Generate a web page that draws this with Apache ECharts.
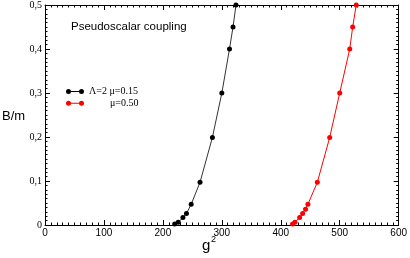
<!DOCTYPE html>
<html>
<head>
<meta charset="utf-8">
<script src="https://cdn.jsdelivr.net/npm/echarts@6/dist/echarts.min.js"></script>
<style>
  html, body { margin: 0; padding: 0; background: #fff; }
  #chart { width: 410px; height: 258px; }
</style>
</head>
<body>
<div id="chart"></div>
<script>
// g^2 and B/m
var blackName = 'Λ=2 μ=0.15';
var redName = 'μ=0.50';
var blackG2 = [220, 226, 234, 240, 248, 263, 284, 300, 313, 319, 324];
var blackB = [0.002, 0.006, 0.017, 0.026, 0.047, 0.097, 0.199, 0.3, 0.4, 0.45, 0.5];
var redG2 = [420, 424, 432, 437, 442, 446, 462, 483, 500, 517, 522, 528];
var redB = [0.002, 0.006, 0.017, 0.026, 0.036, 0.047, 0.097, 0.199, 0.3, 0.4, 0.45, 0.5];
var xTicks = [0, 600, 100];
var yTicks = [0, 0.5, 0.1];

function pairs(xs, ys) {
  return xs.map(function (x, i) { return [x, ys[i]]; });
}

function initChart(dom) {
  var myChart = echarts.init(document.getElementById(dom));
  var tick = { show: true, inside: true, length: 5, lineStyle: { color: '#000' } };
  var minor = { show: true, splitNumber: 10, length: 2.5, lineStyle: { color: '#000' } };
  var line = { show: true, onZero: false, lineStyle: { color: '#000', width: 1 } };
  var icon = 'path://M2.5,0A2.5,2.5 0 1 1 2.5,5A2.5,2.5 0 1 1 2.5,0Z' +
    'M15.5,0A2.5,2.5 0 1 1 15.5,5A2.5,2.5 0 1 1 15.5,0Z' +
    'M2.5,2L15.5,2L15.5,3L2.5,3Z';
  var option = {
    animation: false,
    grid: { left: 45, right: 10, top: 5, bottom: 33 },
    title: {
      text: 'Pseudoscalar coupling',
      left: 66, top: 16,
      textStyle: { fontFamily: 'Liberation Sans', fontSize: 11.5, fontWeight: 'normal', color: '#000' }
    },
    legend: {
      orient: 'vertical',
      left: 66, top: 86.5, padding: 0,
      itemWidth: 18, itemHeight: 5, itemGap: 1.8,
      data: [{ name: blackName, icon: icon }, { name: redName, icon: icon }],
      formatter: function (name) {
        return name === redName ? '{pad|}' + name : name;
      },
      textStyle: {
        fontFamily: 'Liberation Serif', fontSize: 10, color: '#000',
        rich: { pad: { width: 21 } }
      }
    },
    xAxis: [
      {
        type: 'value', min: xTicks[0], max: xTicks[1], interval: xTicks[2],
        axisLine: line, axisTick: tick, minorTick: minor, splitLine: { show: false },
        axisLabel: { color: '#000', fontFamily: 'Liberation Sans', fontSize: 10, margin: 3 }
      },
      {
        type: 'value', position: 'top', min: xTicks[0], max: xTicks[1], interval: xTicks[2],
        axisLine: line, axisTick: tick, minorTick: minor, splitLine: { show: false },
        axisLabel: { show: false }
      }
    ],
    yAxis: [
      {
        type: 'value', min: yTicks[0], max: yTicks[1], interval: yTicks[2],
        axisLine: line, axisTick: tick, minorTick: minor, splitLine: { show: false },
        axisLabel: {
          color: '#000', fontFamily: 'Liberation Serif', fontSize: 10, margin: 3,
          formatter: function (v) { return v === 0 ? '0' : v.toFixed(1).replace('.', ','); }
        }
      },
      {
        type: 'value', position: 'right', min: yTicks[0], max: yTicks[1], interval: yTicks[2],
        axisLine: line, axisTick: tick, minorTick: minor, splitLine: { show: false },
        axisLabel: { show: false }
      }
    ],
    graphic: [
      {
        type: 'text', left: 2, top: 110,
        style: { text: 'B/m', fontFamily: 'Liberation Sans', fontSize: 13, fill: '#000' }
      },
      {
        type: 'text', left: 202, top: 238,
        style: { text: 'g', fontFamily: 'Liberation Sans', fontSize: 15, fill: '#000' }
      },
      {
        type: 'text', left: 211, top: 235,
        style: { text: '2', fontFamily: 'Liberation Sans', fontSize: 9, fill: '#000' }
      }
    ],
    series: [
      {
        name: blackName, type: 'line', data: pairs(blackG2, blackB),
        symbol: 'circle', symbolSize: 5, clip: false,
        itemStyle: { color: '#000' },
        lineStyle: { color: '#333', width: 1 }
      },
      {
        name: redName, type: 'line', data: pairs(redG2, redB),
        symbol: 'circle', symbolSize: 5, clip: false,
        itemStyle: { color: '#ff0000' },
        lineStyle: { color: '#ff0000', width: 1 }
      }
    ]
  };
  myChart.setOption(option);
  return myChart;
}

initChart('chart');
</script>
</body>
</html>
